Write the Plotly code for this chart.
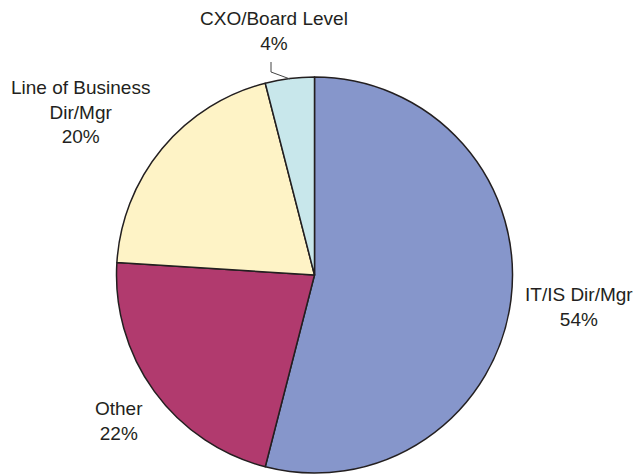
import plotly.graph_objects as go

labels = ["IT/IS Dir/Mgr", "Other", "Line of Business<br>Dir/Mgr", "CXO/Board Level"]
values = [54, 22, 20, 4]
colors = ["#8696CB", "#B13A6E", "#FEF3C6", "#C8E7EB"]

W, H = 637, 474
cx, cy, r = 314.5, 275, 198

fig = go.Figure(go.Pie(
    labels=labels, values=values, sort=False, direction="clockwise", rotation=0,
    marker=dict(colors=colors, line=dict(color="#231f20", width=1.5)),
    textinfo="none", hoverinfo="label+percent", showlegend=False,
    domain=dict(x=[(cx - r) / W, (cx + r) / W], y=[1 - (cy + r) / H, 1 - (cy - r) / H]),
))

label_pos = [(579, 306.5), (119, 420.5), (80, 112), (274, 31)]
font = dict(family="Liberation Sans, Arial, sans-serif", size=19, color="#231f20")
for lab, v, (x, y) in zip(labels, values, label_pos):
    fig.add_annotation(x=x / W, y=1 - y / H, xref="paper", yref="paper",
                       text=f"{lab}<br>{v}%", showarrow=False, font=font,
                       xanchor="center", yanchor="middle", align="center")

pts = [(271, 62), (271, 72), (290, 79)]
path = "M " + " L ".join(f"{x / W},{1 - y / H}" for x, y in pts)
fig.add_shape(type="path", path=path, xref="paper", yref="paper",
              line=dict(color="#444444", width=1))

fig.update_layout(width=W, height=H, margin=dict(l=0, r=0, t=0, b=0),
                  paper_bgcolor="white", plot_bgcolor="white")
fig.write_html("out.html", config={"displayModeBar": False},
               post_script="document.body.style.margin='0';document.body.style.overflow='hidden';")
